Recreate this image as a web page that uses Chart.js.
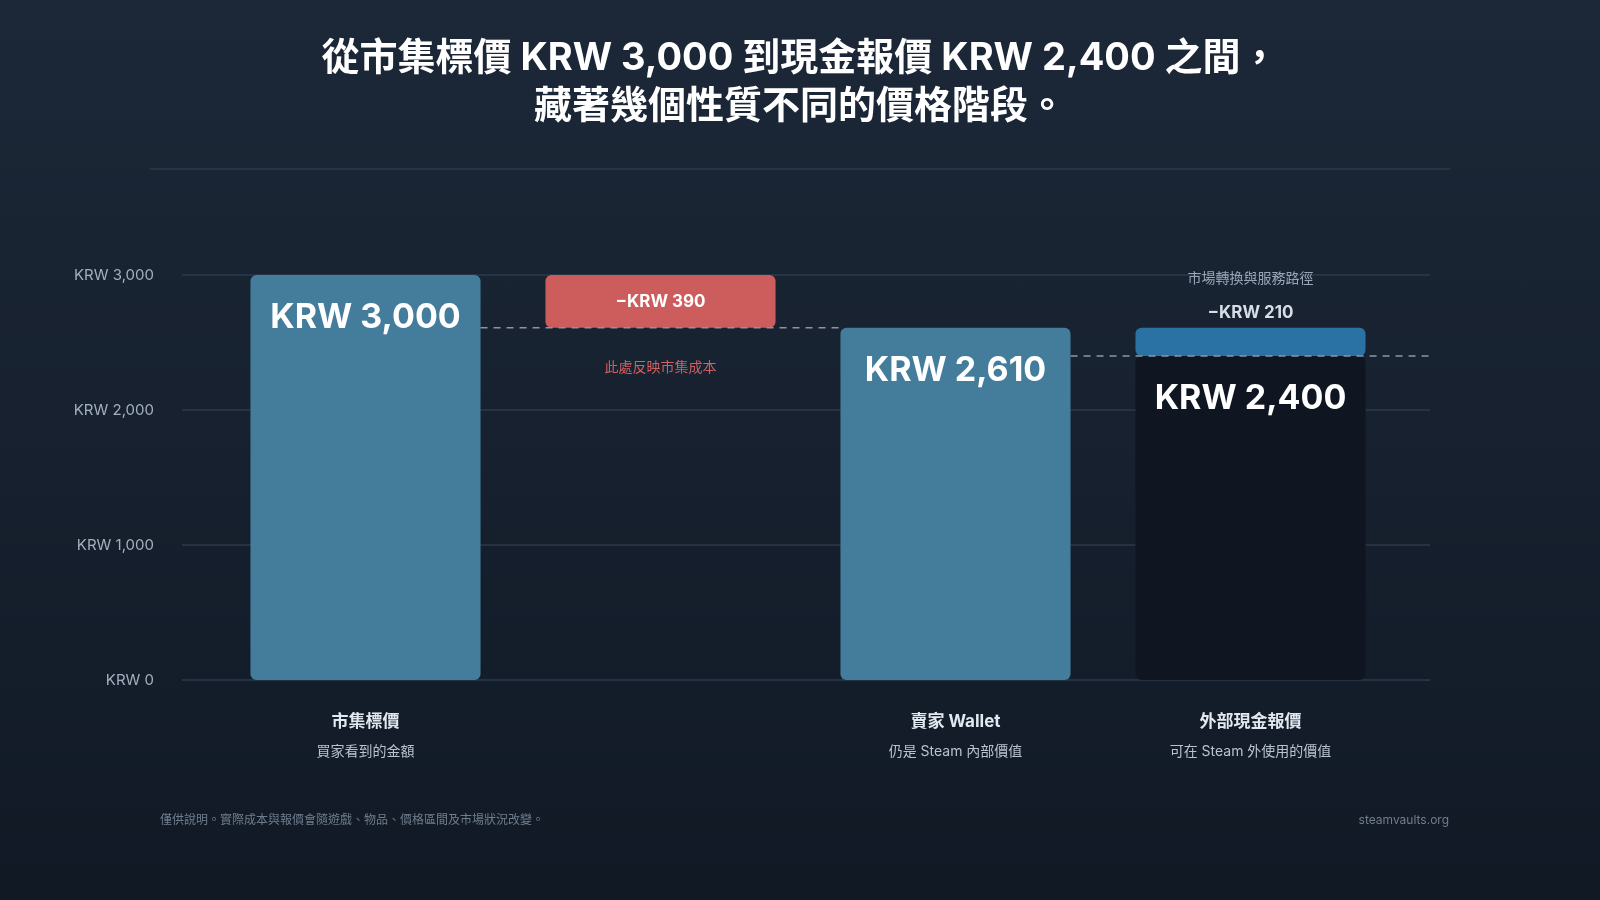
<!DOCTYPE html>
<html><head><meta charset="utf-8">
<script src="https://cdn.jsdelivr.net/npm/chart.js@4"></script>
<style>html,body{margin:0;padding:0;background:#151f2d}#w{width:1600px;height:900px;background:linear-gradient(#1c2838,#111925)}</style>
</head><body><div id="w"><canvas id="c" width="1600" height="900"></canvas></div>
<script>
const categories = ["市集標價","","賣家 Wallet","外部現金報價"];
const subLabels = ["買家看到的金額","","仍是 Steam 內部價值","可在 Steam 外使用的價值"];
const mainBars = [[0,3000],[2610,3000],[0,2610],[0,2400]];
const serviceBar = [null,null,null,[2400,2610]];
const valueLabels = ["KRW 3,000","−KRW 390","KRW 2,610","KRW 2,400"];
const serviceLabel = "−KRW 210";
const serviceNote = "市場轉換與服務路徑";
const feeNote = "此處反映市集成本";
const yTicks = [0,1000,2000,3000];
const F = "Inter, 'Noto Sans CJK TC', sans-serif";

const deco = {
  id:'deco',
  beforeDatasetsDraw(ch){
    const c=ch.ctx,y=ch.scales.y;
    c.save();c.strokeStyle='#2a3a4e';c.lineWidth=1.5;
    yTicks.forEach(v=>{const p=y.getPixelForValue(v);c.beginPath();c.moveTo(182,p);c.lineTo(1430,p);c.stroke();});
    c.restore();
  },
  afterDatasetsDraw(ch){
    const c=ch.ctx,x=ch.scales.x,y=ch.scales.y;
    const meta=ch.getDatasetMeta(0);
    c.save();
    c.fillStyle='#ffffff';c.textAlign='center';c.textBaseline='middle';
    c.font='bold 38px '+F;
    c.fillText('從市集標價 KRW 3,000 到現金報價 KRW 2,400 之間，',800,59);
    c.fillText('藏著幾個性質不同的價格階段。',800,107);
    c.strokeStyle='#2a3a4e';c.lineWidth=1.5;c.beginPath();c.moveTo(150,169);c.lineTo(1450,169);c.stroke();
    c.setLineDash([7,6]);c.strokeStyle='#8a96a6';c.lineWidth=1.5;
    const b=meta.data;
    let p=y.getPixelForValue(2610);
    c.beginPath();c.moveTo(b[0].x+b[0].width/2,p);c.lineTo(b[2].x-b[2].width/2,p);c.stroke();
    p=y.getPixelForValue(2400);
    c.beginPath();c.moveTo(b[2].x+b[2].width/2,p);c.lineTo(1430,p);c.stroke();
    c.setLineDash([]);
    c.fillStyle='#fff';c.font='bold 34px '+F;
    [0,2,3].forEach(i=>{
      const top=y.getPixelForValue(mainBars[i][1]);
      c.fillText(valueLabels[i],b[i].x,top+43);
    });
    c.font='bold 17px '+F;
    c.fillText(valueLabels[1],b[1].x,(y.getPixelForValue(3000)+y.getPixelForValue(2610))/2+1);
    c.fillStyle='#d45f5f';c.font='14px '+F;
    c.fillText(feeNote,b[1].x,368);
    c.fillStyle='#9aa6b6';c.font='14px '+F;
    c.fillText(serviceNote,b[3].x,279);
    c.fillStyle='#d6dde6';c.font='bold 17px '+F;
    c.fillText(serviceLabel,b[3].x,313);
    categories.forEach((t,i)=>{
      if(!t)return;
      c.fillStyle='#e2e8ef';c.font='bold 17px '+F;c.fillText(t,b[i].x,722);
      c.fillStyle='#b8c3cf';c.font='14px '+F;c.fillText(subLabels[i],b[i].x,752);
    });
    c.fillStyle='#6f7d8e';c.font='12px '+F;c.textAlign='left';
    c.fillText('僅供說明。實際成本與報價會隨遊戲、物品、價格區間及市場狀況改變。',160,820);
    c.textAlign='right';c.fillText('steamvaults.org',1449,820);
    c.restore();
  }
};

new Chart(document.getElementById('c'),{
  type:'bar',
  data:{labels:categories,datasets:[
    {data:mainBars,backgroundColor:['#447c9c','#cd5c5c','#447c9c','#0f1621'],borderRadius:6,borderSkipped:false,barPercentage:0.78,categoryPercentage:1},
    {data:serviceBar,backgroundColor:'#2a72a3',borderRadius:6,borderSkipped:false,barPercentage:0.78,categoryPercentage:1}
  ]},
  options:{
    responsive:false,animation:false,
    layout:{padding:{left:0,right:202,top:275,bottom:220}},
    plugins:{legend:{display:false},tooltip:{enabled:false}},
    datasets:{bar:{grouped:false}},
    scales:{
      x:{display:false},
      y:{min:0,max:3000,afterFit(s){s.width=218;},
        afterBuildTicks(s){s.ticks=yTicks.map(v=>({value:v}));},
        grid:{display:false},border:{display:false},
        ticks:{padding:56,color:'#a3b0bf',font:{size:15,family:F},callback:v=>'KRW '+v.toLocaleString('en-US')}}
    }
  },
  plugins:[deco]
});
</script></body></html>
